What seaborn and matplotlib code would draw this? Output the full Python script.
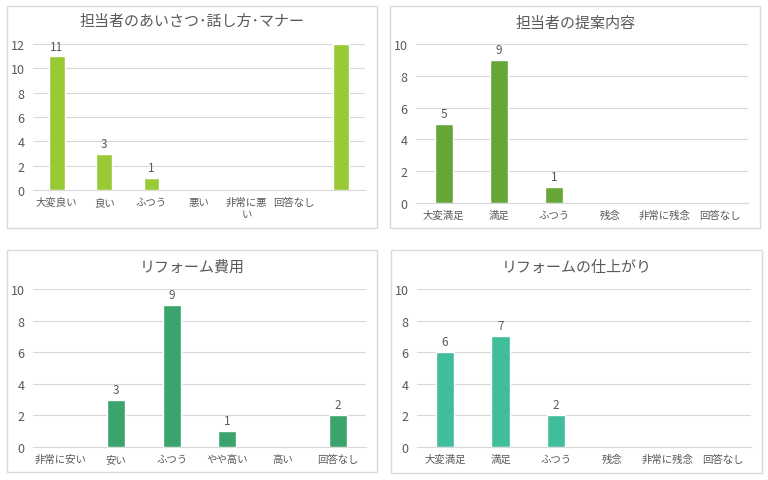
import matplotlib
matplotlib.use("Agg")
import matplotlib.pyplot as plt
import seaborn as sns
import pandas as pd
from matplotlib.patches import Rectangle

sns.set_theme(style="white")
plt.rcParams['font.family'] = ['Noto Sans CJK JP', 'DejaVu Sans']

# ---- data ----
title1 = "担当者のあいさつ･話し方･マナー"
cats1 = ["大変良い", "良い", "ふつう", "悪い", "非常に悪\nい", "回答なし", ""]
vals1 = [11, 3, 1, 0, 0, 0, 12]
show1 = [True, True, True, False, False, False, False]

title2 = "担当者の提案内容"
cats2 = ["大変満足", "満足", "ふつう", "残念", "非常に残念", "回答なし"]
vals2 = [5, 9, 1, 0, 0, 0]
show2 = [True, True, True, False, False, False]

title3 = "リフォーム費用"
cats3 = ["非常に安い", "安い", "ふつう", "やや高い", "高い", "回答なし"]
vals3 = [0, 3, 9, 1, 0, 2]
show3 = [False, True, True, True, False, True]

title4 = "リフォームの仕上がり"
cats4 = ["大変満足", "満足", "ふつう", "残念", "非常に残念", "回答なし"]
vals4 = [6, 7, 2, 0, 0, 0]
show4 = [True, True, True, False, False, False]

colors = ["#99CA35", "#66A636", "#3BA36C", "#40BE9B"]
ymaxes = [12, 10, 10, 10]

W, H = 768, 481
fig = plt.figure(figsize=(W / 100, H / 100), dpi=100)
fig.patch.set_facecolor("white")

TXT = "#595959"
GRID = "#D9D9D9"

# boxes (pixel): x0, y0, x1, y1
boxes = [(7, 7, 377, 229), (390, 7, 760, 229), (7, 251, 377, 473), (391, 251, 762, 474)]
# plot areas (pixel): left, right, ytop(ymax), ybottom(0)
areas = [(33, 365, 45, 191), (416, 748, 45, 204), (33, 366, 290, 448), (417, 751, 290, 448)]
title_y = [22, 24, 268, 268]

panels = [(title1, cats1, vals1, show1), (title2, cats2, vals2, show2),
          (title3, cats3, vals3, show3), (title4, cats4, vals4, show4)]

for i, ((title, cats, vals, show), box, area) in enumerate(zip(panels, boxes, areas)):
    x0, y0, x1, y1 = box
    fig.patches.append(Rectangle((x0 / W, 1 - y1 / H), (x1 - x0) / W, (y1 - y0) / H,
                                 transform=fig.transFigure, facecolor="none",
                                 edgecolor="#D9D9D9", linewidth=1.0, zorder=-1))
    l, r, t, b = area
    ax = fig.add_axes([l / W, 1 - b / H, (r - l) / W, (b - t) / H])
    ax.set_facecolor("none")
    df = pd.DataFrame({"cat": cats, "val": vals})
    sns.barplot(data=df, x="cat", y="val", order=cats, color=colors[i],
                width=0.33, saturation=1, ax=ax, zorder=3)
    ax.set_xlim(-0.5, len(cats) - 0.5)
    ax.set_ylim(0, ymaxes[i])
    ax.set_yticks(range(0, ymaxes[i] + 1, 2))
    ax.grid(axis="y", color=GRID, linewidth=0.8, zorder=0)
    ax.set_axisbelow(True)
    for s in ["top", "right", "left"]:
        ax.spines[s].set_visible(False)
    ax.spines["bottom"].set_color(GRID)
    ax.spines["bottom"].set_linewidth(0.8)
    ax.set_xlabel("")
    ax.set_ylabel("")
    ax.tick_params(axis="y", length=0, labelsize=9, colors=TXT, pad=6)
    ax.tick_params(axis="x", length=0, labelsize=7.5, colors=TXT, pad=5)
    if i == 0:
        ax.set_xticks([k + 0.5 for k in range(-1, len(cats))], minor=True)
        ax.tick_params(axis="x", which="minor", length=4, color=GRID, width=0.8)
    for k, (v, sh) in enumerate(zip(vals, show)):
        if sh:
            ax.text(k, v + ymaxes[i] * 0.025, str(v), ha="center", va="bottom",
                    fontsize=8.5, color=TXT)
    fig.text(((x0 + x1) / 2) / W, 1 - title_y[i] / H, title, ha="center", va="center",
             fontsize=10.8, color=TXT)

fig.savefig("out.png", dpi=100, facecolor="white")
